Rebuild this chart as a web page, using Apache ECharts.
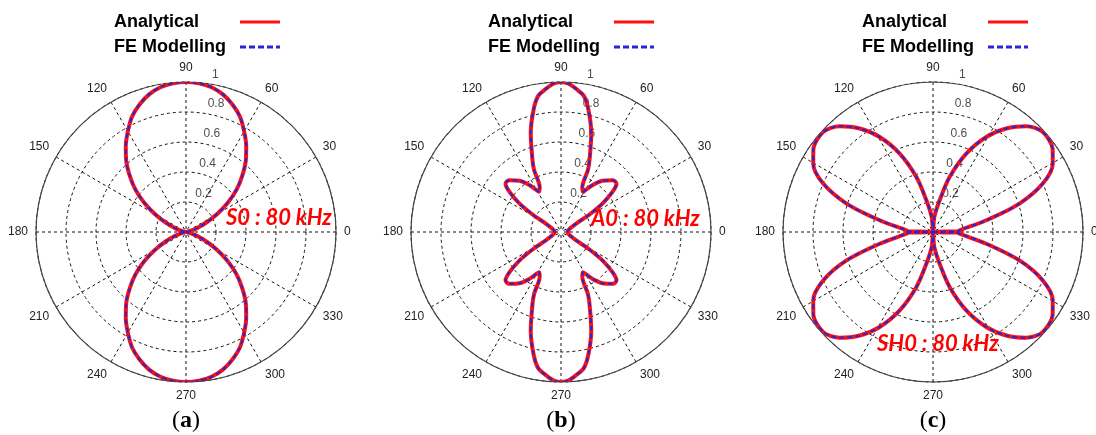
<!DOCTYPE html>
<html>
<head>
<meta charset="utf-8">
<script src="https://cdn.jsdelivr.net/npm/echarts@6/dist/echarts.min.js"></script>
<style>
html,body{margin:0;padding:0;background:#fff;}
#chart{width:1096px;height:435px;}
</style>
</head>
<body>
<div id="chart"></div>
<script>
// ---------- data ----------
const angleTicks = [0, 30, 60, 90, 120, 150, 180, 210, 240, 270, 300, 330];
const radiusTicks = [0.2, 0.4, 0.6, 0.8, 1];
const legendNames = ['Analytical', 'FE Modelling'];
const panelNotes = ['S0 : 80 kHz', 'A0 : 80 kHz', 'SH0 : 80 kHz'];
const panelLetters = ['a', 'b', 'c'];

// (a) S0 mode, angle in degrees / normalised amplitude
const s0Angles = [0,5,10,15,20,25,30,35,40,45,50,55,60,65,70,75,80,85,90,
  95,100,105,110,115,120,125,130,135,140,145,150,155,160,165,170,175,180,
  185,190,195,200,205,210,215,220,225,230,235,240,245,250,255,260,265,270,
  275,280,285,290,295,300,305,310,315,320,325,330,335,340,345,350,355,360];
const s0Analytical = [0,0.005,0.01,0.04,0.08,0.15,0.24,0.34,0.44,0.53,0.62,0.70,0.775,0.85,0.905,0.95,0.98,0.995,1.0,
  0.995,0.98,0.95,0.905,0.85,0.775,0.70,0.62,0.53,0.44,0.34,0.24,0.15,0.08,0.04,0.01,0.005,0,
  0.005,0.01,0.04,0.08,0.15,0.24,0.34,0.44,0.53,0.62,0.70,0.775,0.85,0.905,0.95,0.98,0.995,1.0,
  0.995,0.98,0.95,0.905,0.85,0.775,0.70,0.62,0.53,0.44,0.34,0.24,0.15,0.08,0.04,0.01,0.005,0];
const s0FE = s0Analytical; // FE curve coincides with the analytical one

// (b) A0 mode (traced in drawing order)
const a0Angles = [0,8,20,29,31.5,34.5,38,41,45,51,56,61.5,64.5,66.5,68.5,73,77.5,80.5,84,87,90,
  93,96,99.5,102.5,107,111.5,113.5,115.5,118.5,124,129,135,139,142,145.5,148.5,151,160,172,180,
  188,200,209,211.5,214.5,218,221,225,231,236,241.5,244.5,246.5,248.5,253,257.5,260.5,264,267,270,
  273,276,279.5,282.5,287,291.5,293.5,295.5,298.5,304,309,315,319,322,325.5,328.5,331,340,352,360];
const a0Analytical = [0.04,0.045,0.06,0.116,0.22,0.337,0.437,0.49,0.489,0.44,0.378,0.305,0.33,0.45,0.52,0.69,0.84,0.92,0.96,0.99,1.0,
  0.99,0.96,0.92,0.84,0.69,0.52,0.45,0.33,0.305,0.378,0.44,0.489,0.49,0.437,0.337,0.22,0.116,0.06,0.045,0.04,
  0.045,0.06,0.116,0.22,0.337,0.437,0.49,0.489,0.44,0.378,0.305,0.33,0.45,0.52,0.69,0.84,0.92,0.96,0.99,1.0,
  0.99,0.96,0.92,0.84,0.69,0.52,0.45,0.33,0.305,0.378,0.44,0.489,0.49,0.437,0.337,0.22,0.116,0.06,0.045,0.04];
const a0FE = a0Analytical;

// (c) SH0 mode (traced in drawing order)
const sh0Angles = [0,2,1,3.7,12.4,18.2,23.8,29.7,34.4,42.4,48.6,54.7,60.7,67,73.2,78.2,85,90,
  95,101.8,106.8,113,119.3,125.3,131.4,137.6,145.6,150.3,156.2,161.8,167.6,176.3,179,178,180,
  182,181,183.7,192.4,198.2,203.8,209.7,214.4,222.4,228.6,234.7,240.7,247,253.2,258.2,265,270,
  275,281.8,286.8,293,299.3,305.3,311.4,317.6,325.6,330.3,336.2,341.8,347.6,356.3,359,358,360];
const sh0Analytical = [0,0.08,0.16,0.178,0.364,0.607,0.80,0.919,0.967,0.99,0.94,0.845,0.726,0.568,0.383,0.216,0.1,0,
  0.1,0.216,0.383,0.568,0.726,0.845,0.94,0.99,0.967,0.919,0.80,0.607,0.364,0.178,0.16,0.08,0,
  0.08,0.16,0.178,0.364,0.607,0.80,0.919,0.967,0.99,0.94,0.845,0.726,0.568,0.383,0.216,0.1,0,
  0.1,0.216,0.383,0.568,0.726,0.845,0.94,0.99,0.967,0.919,0.80,0.607,0.364,0.178,0.16,0.08,0];
const sh0FE = sh0Analytical;

// ---------- layout ----------
const centers = [[186, 232], [561, 232], [933, 232]];
const R = 150;
const legendLeft = [109, 483, 857];
const noteBoxes = [[226, 207], [591, 208], [877, 333]];
const panels = [
  {angles: s0Angles, an: s0Analytical, fe: s0FE},
  {angles: a0Angles, an: a0Analytical, fe: a0FE},
  {angles: sh0Angles, an: sh0Analytical, fe: sh0FE}
];
const zip = (rs, as) => rs.map((r, i) => [r, as[i]]);
const FONT = '"Liberation Sans", Arial, sans-serif';

const option = {
  animation: false,
  backgroundColor: '#fff',
  polar: centers.map(c => ({center: c, radius: R})),
  angleAxis: centers.map((c, i) => ({
    polarIndex: i, type: 'value', min: 0, max: 360, interval: 30,
    startAngle: 0, clockwise: false,
    axisLine: {show: true, lineStyle: {color: '#444', width: 1.2}},
    axisTick: {show: false},
    axisLabel: {show: true, margin: 8, color: '#222', fontSize: 12, fontFamily: FONT,
      formatter: v => angleTicks.indexOf(v) >= 0 ? String(v) : ''},
    splitLine: {show: true, lineStyle: {color: '#111', width: 1, type: [3, 3]}}
  })),
  radiusAxis: centers.map((c, i) => ({
    polarIndex: i, type: 'value', min: 0, max: 1, interval: 0.2,
    axisLine: {show: false}, axisTick: {show: false}, axisLabel: {show: false},
    splitLine: {show: true, lineStyle: {color: '#111', width: 1, type: [3, 3]}}
  })),
  legend: legendLeft.map(l => ({
    left: l, top: 8, orient: 'vertical', align: 'right',
    itemWidth: 40, itemHeight: 14, itemGap: 7, selectedMode: false,
    itemStyle: {opacity: 0},
    data: [
      {name: legendNames[0], lineStyle: {width: 3}, itemStyle: {opacity: 0}},
      {name: legendNames[1], lineStyle: {width: 3, type: [6, 3]}, itemStyle: {opacity: 0}}
    ],
    formatter: n => '{t|' + n + '}',
    textStyle: {rich: {t: {width: 121, align: 'left', fontSize: 18, fontWeight: 'bold',
      fontFamily: FONT, color: '#000'}}}
  })),
  series: [],
  graphic: []
};

panels.forEach((p, i) => {
  option.series.push({
    type: 'scatter', coordinateSystem: 'polar', polarIndex: i, silent: true,
    data: radiusTicks.map(r => [r, 82]), symbolSize: 0, z: 1,
    label: {show: true, position: 'right', distance: 5, offset: [0, -9],
      color: '#222', fontSize: 12, fontFamily: FONT, formatter: q => String(q.value[0])}
  });
  option.series.push({
    type: 'line', name: legendNames[0], coordinateSystem: 'polar', polarIndex: i,
    data: zip(p.an, p.angles), symbol: 'none', smooth: 0.3, clip: false, z: 3,
    lineStyle: {color: '#ff1010', width: 4}, itemStyle: {color: '#ff1010'}
  });
  option.series.push({
    type: 'line', name: legendNames[1], coordinateSystem: 'polar', polarIndex: i,
    data: zip(p.fe, p.angles), symbol: 'none', smooth: 0.3, clip: false, z: 4,
    lineStyle: {color: '#2626d4', width: 2, type: [5, 3]}, itemStyle: {color: '#2626d4'}
  });
  option.graphic.push({
    type: 'text', left: noteBoxes[i][0], top: noteBoxes[i][1], z: 100,
    style: {text: panelNotes[i], fill: '#ff0000',
      font: 'italic bold 22px Lato, "Open Sans", sans-serif'}
  });
  option.graphic.push({
    type: 'text', x: centers[i][0], y: 421, z: 100,
    style: {text: '{p|(}{b|' + panelLetters[i] + '}{p|)}', align: 'center', verticalAlign: 'middle',
      rich: {p: {fontSize: 24, fontFamily: '"Liberation Serif", serif', fill: '#000', color: '#000'},
             b: {fontSize: 24, fontWeight: 'bold', fontFamily: '"Liberation Serif", serif', fill: '#000', color: '#000'}}}
  });
});

const chart = echarts.init(document.getElementById('chart'), null, {renderer: 'canvas'});
chart.setOption(option);
</script>
</body>
</html>
